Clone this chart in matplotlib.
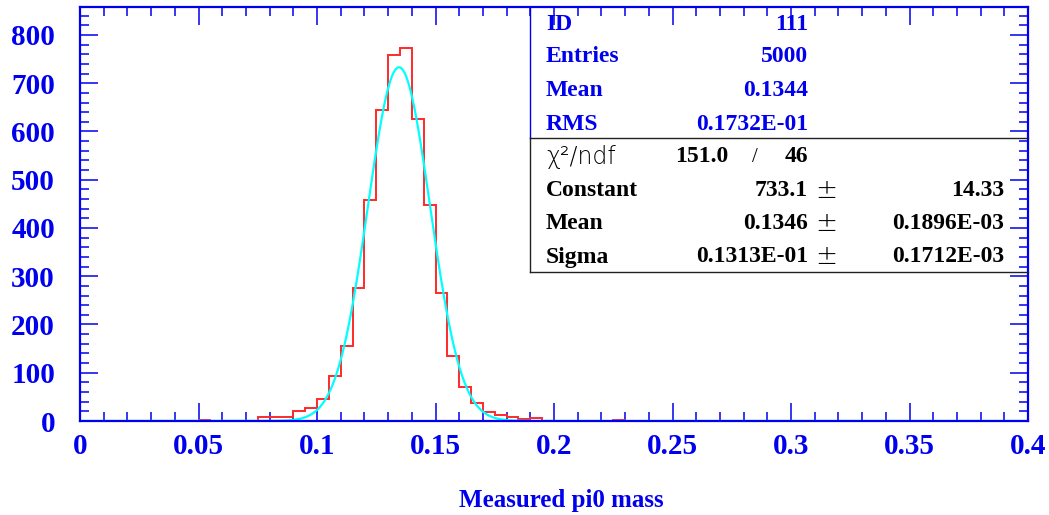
import numpy as np
import matplotlib
matplotlib.use('Agg')
import matplotlib.pyplot as plt
from matplotlib.ticker import MultipleLocator, FormatStrFormatter
from matplotlib.lines import Line2D

# histogram: 80 bins of 0.005 between 0 and 0.4
bin_lo = 0.0
bin_hi = 0.4
n_bins = 80
counts = [
    0, 0, 1, 0, 0, 0, 1, 1, 1, 1,          # 0.000 - 0.050
    3, 1, 1, 1, 1, 9, 9, 9, 20, 26,        # 0.050 - 0.100
    46, 93, 155, 276, 459, 644, 759, 772, 625, 447,   # 0.100 - 0.150
    266, 134, 70, 38, 18, 13, 9, 5, 7, 1,  # 0.150 - 0.200
    1, 1, 1, 0, 0, 3, 1, 1, 1, 1,          # 0.200 - 0.250
    0, 0, 0, 1, 1, 0, 0, 1, 1, 0,          # 0.250 - 0.300
    0, 1, 0, 0, 0, 0, 0, 0, 0, 0,          # 0.300 - 0.350
    0, 0, 1, 0, 0, 0, 0, 0, 0, 0,          # 0.350 - 0.400
]

# gaussian fit parameters (from stats box)
fit_const = 733.1
fit_mean = 0.1346
fit_sigma = 0.1313e-01

stat_names = ['ID', 'Entries', 'Mean', 'RMS']
stat_values = ['111', '5000', '0.1344', '0.1732E-01']
chi2 = '151.0'
ndf = '46'
fit_names = ['Constant', 'Mean', 'Sigma']
fit_values = ['733.1', '0.1346', '0.1313E-01']
fit_errors = ['14.33', '0.1896E-03', '0.1712E-03']

xlabel = 'Measured pi0 mass'

W, H = 1049, 515
BLUE = '#0000ee'
SERIF = 'Liberation Serif'

fig = plt.figure(figsize=(W / 100, H / 100), dpi=100)
ax = fig.add_axes([80 / W, 1 - 421 / H, (1028 - 80) / W, (421 - 7) / H])


def fx(px):
    return px / W


def fy(py):
    return 1 - py / H


edges = np.linspace(bin_lo, bin_hi, n_bins + 1)
ax.stairs(counts, edges, color='#ff2a2a', lw=1.4, zorder=2)

xs = np.linspace(bin_lo, bin_hi, 800)
ax.plot(xs, fit_const * np.exp(-0.5 * ((xs - fit_mean) / fit_sigma) ** 2),
        color='#00ffff', lw=1.6, zorder=3)

ax.set_xlim(bin_lo, bin_hi)
ax.set_ylim(0, 858)

ax.xaxis.set_major_locator(MultipleLocator(0.05))
ax.xaxis.set_minor_locator(MultipleLocator(0.01))
ax.yaxis.set_major_locator(MultipleLocator(100))
ax.yaxis.set_minor_locator(MultipleLocator(20))
ax.xaxis.set_major_formatter(plt.FuncFormatter(lambda v, p: ('%g' % round(v, 3))))
ax.yaxis.set_major_formatter(FormatStrFormatter('%d'))

ax.tick_params(which='both', direction='in', top=True, right=True, color=BLUE, width=1.1)
ax.tick_params(which='major', length=13)
ax.tick_params(which='minor', length=6.5)
ax.tick_params(axis='x', which='major', pad=9)
ax.tick_params(axis='y', which='major', pad=18)
for lab in ax.get_xticklabels() + ax.get_yticklabels():
    lab.set_fontfamily(SERIF)
    lab.set_fontweight('bold')
    lab.set_fontsize(21)
    lab.set_color(BLUE)

for s in ax.spines.values():
    s.set_color(BLUE)
    s.set_linewidth(1.6)
    s.set_zorder(5)

fig.text(fx(561), fy(500), xlabel, ha='center', va='center', color=BLUE,
         fontfamily=SERIF, fontweight='bold', fontsize=18)

# stats box
fig.add_artist(Line2D([fx(530), fx(530)], [fy(7), fy(138)], color=BLUE, lw=1.0))
fig.add_artist(Line2D([fx(530), fx(530)], [fy(138), fy(272)], color='#222222', lw=1.0))
fig.add_artist(Line2D([fx(530), fx(1028)], [fy(138), fy(138)], color='#222222', lw=1.0))
fig.add_artist(Line2D([fx(530), fx(1028)], [fy(272), fy(272)], color='#222222', lw=1.0))

row_y = [24, 57, 90, 124]
for name, val, yy in zip(stat_names, stat_values, row_y):
    fig.text(fx(546), fy(yy), name, ha='left', va='center', color=BLUE,
             fontfamily=SERIF, fontweight='bold', fontsize=17)
    fig.text(fx(808), fy(yy), val, ha='right', va='center', color=BLUE,
             fontfamily=SERIF, fontweight='bold', fontsize=17)

fig.text(fx(546), fy(157), 'χ²/ndf', ha='left', va='center', color='black',
         fontfamily='DejaVu Sans', fontweight='light', fontsize=17)
fig.text(fx(728), fy(157), chi2, ha='right', va='center', color='black',
         fontfamily=SERIF, fontweight='bold', fontsize=17)
fig.text(fx(755), fy(157), '/', ha='center', va='center', color='black',
         fontfamily=SERIF, fontsize=15)
fig.text(fx(808), fy(157), ndf, ha='right', va='center', color='black',
         fontfamily=SERIF, fontweight='bold', fontsize=17)

fit_y = [190, 223, 257]
for name, val, err, yy in zip(fit_names, fit_values, fit_errors, fit_y):
    fig.text(fx(546), fy(yy), name, ha='left', va='center', color='black',
             fontfamily=SERIF, fontweight='bold', fontsize=17)
    fig.text(fx(808), fy(yy), val, ha='right', va='center', color='black',
             fontfamily=SERIF, fontweight='bold', fontsize=17)
    fig.text(fx(826), fy(yy), '±', ha='center', va='center', color='black',
             fontfamily='DejaVu Sans', fontweight='light', fontsize=19)
    fig.text(fx(1004), fy(yy), err, ha='right', va='center', color='black',
             fontfamily=SERIF, fontweight='bold', fontsize=17)

fig.savefig('out.png', dpi=100, facecolor='white')
